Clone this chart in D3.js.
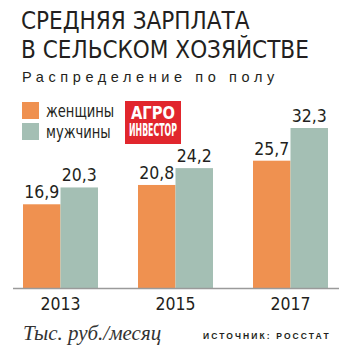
<!DOCTYPE html>
<html><head><meta charset="utf-8">
<script src="https://cdn.jsdelivr.net/npm/d3@7"></script>
<style>
html,body{margin:0;padding:0;background:#fff;}
svg{display:block;}
</style></head>
<body>
<script>
const years = ["2013", "2015", "2017"];
const seriesNames = ["женщины", "мужчины"];
const women = [16.9, 20.8, 25.7];
const men = [20.3, 24.2, 32.3];
const valueLabels = { women: ["16,9", "20,8", "25,7"], men: ["20,3", "24,2", "32,3"] };
const colors = ["#EF9150", "#A4BFB4"];

const W = 361, H = 355;
const svg = d3.select("body").append("svg").attr("width", W).attr("height", H);
const narrow = "'Liberation Sans Narrow','DejaVu Sans Condensed',sans-serif";
const ink = "#231f20";

// Title
svg.append("text").attr("x", 21).attr("y", 29).text("СРЕДНЯЯ ЗАРПЛАТА")
  .attr("font-family", narrow).attr("font-size", 24).attr("fill", ink);
svg.append("text").attr("x", 21).attr("y", 58).text("В СЕЛЬСКОМ ХОЗЯЙСТВЕ")
  .attr("font-family", narrow).attr("font-size", 24).attr("fill", ink);
svg.append("text").attr("x", 22).attr("y", 82).text("Распределение по полу")
  .attr("font-family", "'Liberation Sans',sans-serif").attr("font-size", 14.5)
  .attr("letter-spacing", 4.6).attr("fill", ink);

// Legend
const legend = svg.append("g");
seriesNames.forEach((n, i) => {
  legend.append("rect").attr("x", 22).attr("y", 102 + i * 21).attr("width", 17).attr("height", 17).attr("fill", colors[i]);
  legend.append("text").attr("transform", `translate(46,${117 + i * 21}) scale(0.81,1)`).text(n)
    .attr("font-family", narrow).attr("font-size", 18).attr("fill", ink);
});

// Logo
const logo = svg.append("g");
logo.append("rect").attr("x", 125).attr("y", 101).attr("width", 56).attr("height", 43).attr("fill", "#E1262D");
const logoText = logo.append("text").attr("font-family", narrow).attr("font-weight", "bold")
  .attr("font-size", 18).attr("fill", "#fff");
logoText.append("tspan").attr("x", 131).attr("y", 119).text("АГРО")
  .attr("textLength", 44).attr("lengthAdjust", "spacingAndGlyphs");
logoText.append("tspan").attr("x", 129).attr("y", 136).text("ИНВЕСТОР")
  .attr("textLength", 48).attr("lengthAdjust", "spacingAndGlyphs");

// Scales
const x = d3.scaleBand().domain(years).range([3, 348]).paddingInner(40 / 115).paddingOuter(20 / 115);
const xs = d3.scaleBand().domain([0, 1]).range([0, x.bandwidth()]);
const y = d3.scaleLinear().domain([0, 32.3]).range([288, 128]);

const data = years.map((yr, i) => ({ yr, vals: [women[i], men[i]], labs: [valueLabels.women[i], valueLabels.men[i]] }));
const g = svg.append("g").selectAll("g").data(data).join("g").attr("transform", d => `translate(${x(d.yr)},0)`);
g.selectAll("rect").data(d => d.vals.map((v, j) => ({ v, j }))).join("rect")
  .attr("x", d => xs(d.j)).attr("width", xs.bandwidth())
  .attr("y", d => y(d.v)).attr("height", d => y(0) - y(d.v)).attr("fill", d => colors[d.j]);
g.selectAll("text").data(d => d.vals.map((v, j) => ({ v, j, l: d.labs[j] }))).join("text")
  .attr("x", d => xs(d.j) + xs.bandwidth() / 2).attr("y", d => y(d.v) - 6)
  .attr("text-anchor", "middle").text(d => d.l)
  .attr("font-family", narrow).attr("font-size", 17.5).attr("fill", ink);

// Axis
svg.append("line").attr("x1", 13).attr("x2", 339).attr("y1", 288.5).attr("y2", 288.5)
  .attr("stroke", "#9a9a9a").attr("stroke-width", 1.5);
const axis = svg.append("g").attr("transform", "translate(0,288)")
  .call(d3.axisBottom(x).tickSize(0).tickPadding(5));
axis.select(".domain").remove();
axis.selectAll("text").attr("font-family", narrow).attr("font-size", 17.5).attr("fill", ink).attr("dy", null).attr("y", 22);

// Footer
svg.append("text").attr("x", 23).attr("y", 340).text("Тыс. руб./месяц")
  .attr("font-family", "'Liberation Serif',serif").attr("font-style", "italic").attr("font-size", 21).attr("fill", "#333");
svg.append("text").attr("x", 203).attr("y", 339).text("ИСТОЧНИК: РОССТАТ")
  .attr("font-family", "'Liberation Sans',sans-serif").attr("font-weight", "bold").attr("font-size", 8.5)
  .attr("letter-spacing", 2.1).attr("fill", ink);
</script>
</body></html>
